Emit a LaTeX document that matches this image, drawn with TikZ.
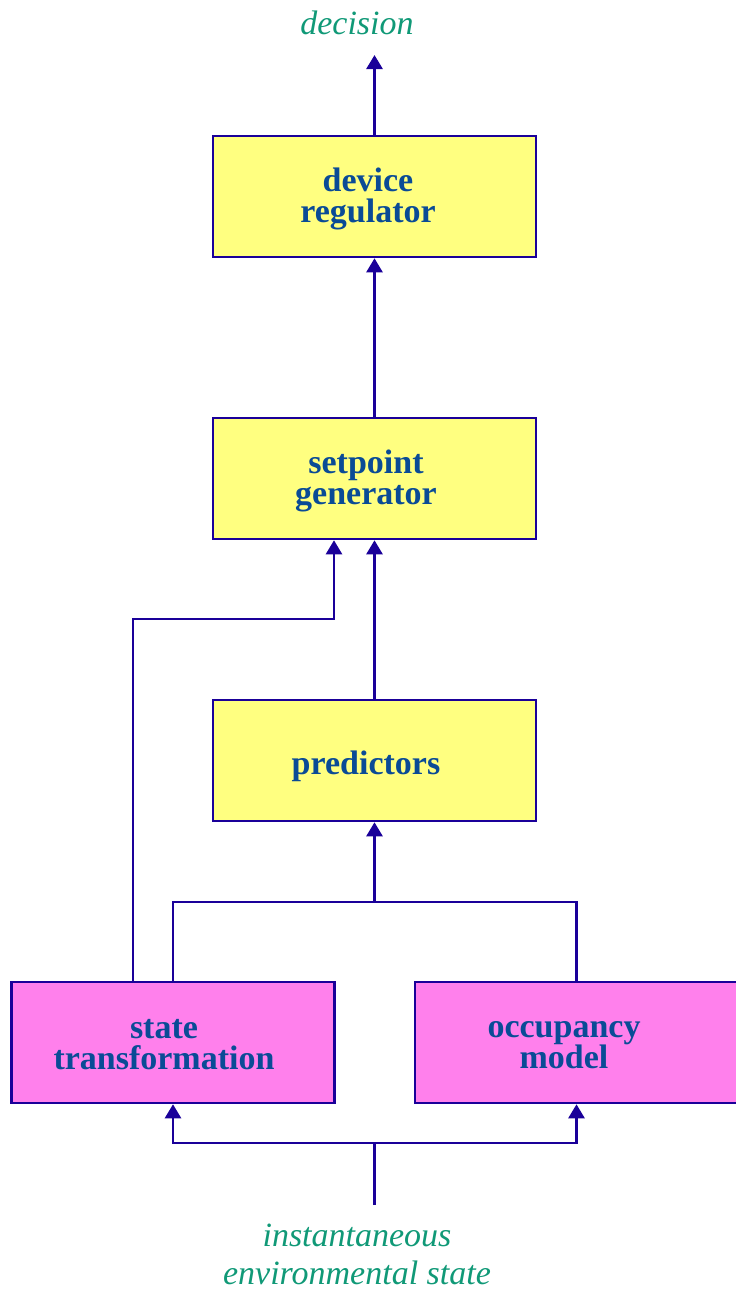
\documentclass[tikz,border=0pt]{standalone}
\usepackage{fontspec}
\setmainfont{Liberation Serif}
\usetikzlibrary{arrows.meta}
\definecolor{linec}{HTML}{1A0099}
\definecolor{yelc}{HTML}{FFFF80}
\definecolor{pinkc}{HTML}{FF80EC}
\definecolor{txtc}{HTML}{0A4B96}
\definecolor{grnc}{HTML}{109977}
\tikzset{
  blk/.style={draw=linec, line width=2.6pt, minimum width=323pt, minimum height=121pt, inner sep=0pt},
  ybox/.style={blk, fill=yelc},
  pbox/.style={blk, fill=pinkc},
  btxt/.style={text=txtc, font=\fontsize{34}{31}\selectfont\bfseries, align=center, inner sep=0pt},
  itxt/.style={text=grnc, font=\fontsize{34}{38}\selectfont\itshape, align=center, inner sep=0pt},
  conn/.style={draw=linec, line width=2.6pt},
  arr/.style={conn, -{Triangle[width=16pt,length=14pt]}}
}
\begin{document}
\begin{tikzpicture}[x=1pt,y=-1pt]
\useasboundingbox (0,0) rectangle (736,1291);
% boxes
\node[ybox] (reg) at (374.5,196.5) {};
\node[ybox] (setp) at (374.5,478.5) {};
\node[ybox] (pred) at (374.5,760.5) {};
\node[pbox] (state) at (173,1042.5) {};
\node[pbox] (occ) at (576.5,1042.5) {};
% box texts
\node[btxt] (regT) at (368,199) {device\\regulator};
\node[btxt] (setpT) at (366,481) {setpoint\\generator};
\node[btxt] (predT) at (366,766) {predictors};
\node[btxt] (stateT) at (164,1045) {state\\transformation};
\node[btxt] (occT) at (564,1045) {occupancy\\model};
% outer labels
\node[itxt] (dec) at (357,23) {decision};
\node[itxt] (env) at (357,1254) {instantaneous\\environmental state};
% coordinates
\coordinate (decP) at (374.5,55);
\coordinate (src) at (374.5,1205);
\coordinate (bj) at (374.5,1143);
\coordinate (pj) at (374.5,902);
\coordinate (sx) at (334,619);
% connectors
\draw[arr] (reg.north) -- (decP);
\draw[arr] (setp.north) -- (reg.south);
\draw[arr] (pred.north) -- (setp.south);
\draw[arr] ([xshift=-40pt]state.north) |- (sx) -- (sx |- setp.south);
\draw[conn] (state.north) |- (pj) -| (occ.north);
\draw[arr] (pj) -- (pred.south);
\draw[conn] (src) -- (bj);
\draw[arr] (bj) -| (state.south);
\draw[arr] (bj) -| (occ.south);
\end{tikzpicture}
\end{document}
